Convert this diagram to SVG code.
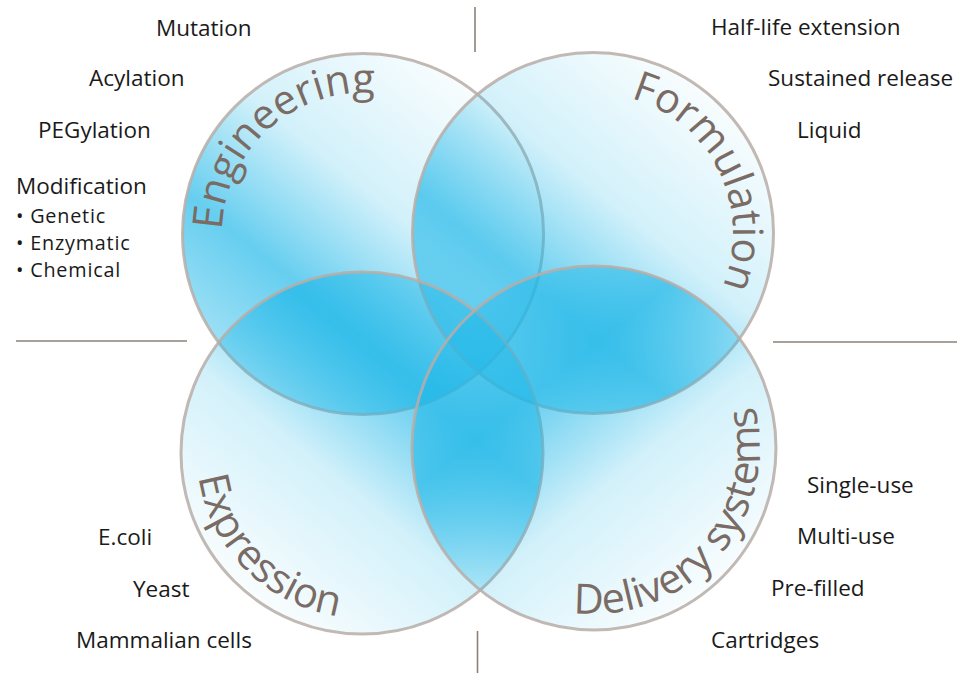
<svg xmlns="http://www.w3.org/2000/svg" width="957" height="673" viewBox="0 0 957 673">
<style>
.lbl{font-family:"Open Sans","Noto Sans",sans-serif;font-size:22.5px;fill:#1a1a1a}
.sub{font-family:"Open Sans","Noto Sans",sans-serif;font-size:19.8px;letter-spacing:0.8px;fill:#1a1a1a}
.ttl{font-family:"Open Sans","Noto Sans",sans-serif;font-size:41.5px;fill:#7a6b64}
.ring{stroke:#b7ada7;stroke-width:3;stroke-opacity:0.85}
.sep{stroke:#8c8079;stroke-width:1.6;fill:none}
</style>
<defs>
<linearGradient id="gBase">
<stop offset="0" stop-color="#1eb7e8" stop-opacity="0.03"/>
<stop offset="0.4" stop-color="#1eb7e8" stop-opacity="0.2"/>
<stop offset="0.72" stop-color="#1eb7e8" stop-opacity="0.68"/>
<stop offset="1" stop-color="#1eb7e8" stop-opacity="0.42"/>
</linearGradient>
<linearGradient id="gE" href="#gBase" gradientUnits="userSpaceOnUse" x1="477" y1="93" x2="249" y2="375"/>
<linearGradient id="gF" href="#gBase" gradientUnits="userSpaceOnUse" x1="708" y1="94" x2="480" y2="375"/>
<linearGradient id="gX" href="#gBase" gradientUnits="userSpaceOnUse" x1="248" y1="593" x2="476" y2="311"/>
<linearGradient id="gD" href="#gBase" gradientUnits="userSpaceOnUse" x1="709" y1="590" x2="480" y2="306"/>
<path id="pE" d="M 222,234 A 141,141 0 0 1 504,234"/>
<path id="pF" d="M 593,93 A 140,140 0 0 1 593,373"/>
<path id="pX" d="M 197,453 A 165,165 0 0 0 527,453"/>
<path id="pD" d="M 511,591.76 A 166,166 0 0 0 677,304.24"/>
</defs>
<rect width="957" height="673" fill="#ffffff"/>
<g id="separators">
<line class="sep" x1="475" y1="7" x2="475" y2="52"/>
<line class="sep" x1="477.5" y1="631" x2="477.5" y2="673"/>
<line class="sep" x1="16" y1="341" x2="187" y2="341"/>
<line class="sep" x1="773" y1="342" x2="957" y2="342"/>
</g>
<g id="engineering">
<circle class="ring" cx="363" cy="234" r="180.5" fill="url(#gE)"/>
</g>
<g id="formulation">
<circle class="ring" cx="593" cy="233" r="180.5" fill="url(#gF)"/>
</g>
<g id="expression">
<circle class="ring" cx="362" cy="453" r="181" fill="url(#gX)"/>
</g>
<g id="delivery">
<circle class="ring" cx="594" cy="448" r="182" fill="url(#gD)"/>
</g>
<g id="titles">
<text class="ttl"><textPath href="#pE" startOffset="4">Engineering</textPath></text>
<text class="ttl"><textPath href="#pF" startOffset="38">Formulation</textPath></text>
<text class="ttl"><textPath href="#pX" startOffset="24">Expression</textPath></text>
<text class="ttl"><textPath href="#pD" startOffset="66">Delivery systems</textPath></text>
</g>
<g id="engineering-items">
<text class="lbl" x="156" y="36">Mutation</text>
<text class="lbl" x="89" y="86">Acylation</text>
<text class="lbl" x="38" y="138">PEGylation</text>
<text class="lbl" x="16" y="194">Modification</text>
<text class="sub" x="16" y="223">• Genetic</text>
<text class="sub" x="16" y="250">• Enzymatic</text>
<text class="sub" x="16" y="277">• Chemical</text>
</g>
<g id="formulation-items">
<text class="lbl" x="711" y="35">Half-life extension</text>
<text class="lbl" x="768" y="86">Sustained release</text>
<text class="lbl" x="797" y="138">Liquid</text>
</g>
<g id="expression-items">
<text class="lbl" x="98" y="545">E.coli</text>
<text class="lbl" x="133" y="597">Yeast</text>
<text class="lbl" x="76" y="648">Mammalian cells</text>
</g>
<g id="delivery-items">
<text class="lbl" x="807" y="493">Single-use</text>
<text class="lbl" x="797" y="544">Multi-use</text>
<text class="lbl" x="771" y="596">Pre-filled</text>
<text class="lbl" x="711" y="648">Cartridges</text>
</g>
</svg>
